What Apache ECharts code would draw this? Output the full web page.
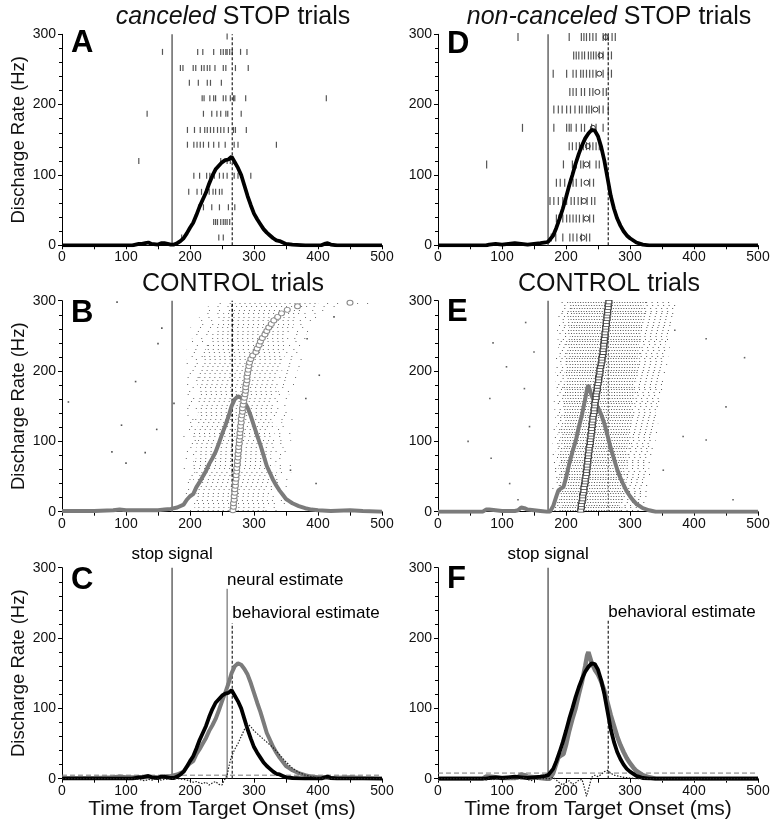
<!DOCTYPE html>
<html><head><meta charset="utf-8">
<script src="https://cdn.jsdelivr.net/npm/echarts@6/dist/echarts.min.js"></script>
<style>html,body{margin:0;padding:0;background:#fff}#c{width:778px;height:827px}</style>
</head><body><div id="c"></div>
<script>
// ---------------- DATA ----------------
const xTicks = [0, 100, 200, 300, 400, 500];
const yTicks = [0, 100, 200, 300];
const stopSignalMs = 172;
const behavioralEstimateMs = 266;
const neuralEstimateMs = 258;
const thresholdC = 5;
const thresholdF = 8;

// Panel A: canceled STOP trials spike density (Hz)
const canceledSDF = [[0,0],[110,0],[120,2],[125,2],[130,3],[135,4],[140,2],[150,1],[155,3],[160,3],[165,2],[170,1],[175,1],[180,3],[185,6],[190,10],[195,17],[200,25],[205,32],[210,43],[215,55],[220,65],[225,75],[230,88],[235,99],[240,108],[245,113],[250,118],[255,121],[260,122],[265,126],[270,118],[275,110],[280,100],[285,85],[290,70],[295,57],[300,45],[305,37],[310,30],[315,23],[320,18],[325,14],[330,10],[335,7],[340,6],[345,4],[350,2],[360,1],[380,0],[405,0],[410,2],[415,3],[420,1],[430,0],[500,0]];
// Panel B: control trials (latency matched to canceled)
const controlSDF1 = [[0,1],[50,1],[80,2],[90,3],[100,2],[150,2],[160,3],[170,4],[180,6],[190,10],[195,17],[200,22],[205,25],[210,35],[215,42],[220,50],[225,58],[230,68],[235,76],[240,85],[245,97],[250,110],[255,122],[260,135],[265,150],[270,160],[275,164],[280,162],[285,156],[290,148],[295,136],[300,122],[305,108],[310,95],[315,80],[320,65],[325,55],[330,45],[335,37],[340,30],[345,24],[350,18],[355,15],[360,12],[370,8],[380,5],[390,3],[400,2],[420,1],[450,2],[470,1],[500,0]];
// Panel C: difference (control - canceled)
const canceledDiff = [[0,0],[110,0],[120,-1],[130,-3],[135,-1],[140,-2],[150,0],[155,-2],[160,-1],[170,0],[180,0],[190,-1],[195,-2],[200,-3],[205,-5],[210,-4],[215,-6],[220,-7],[225,-5],[230,-9],[235,-6],[240,-4],[245,-8],[250,-9],[253,-3],[255,0],[258,5],[260,14],[262,22],[265,32],[268,38],[270,42],[275,50],[280,60],[285,70],[290,78],[295,74],[300,68],[310,60],[320,52],[330,44],[340,34],[350,24],[360,15],[370,9],[380,5],[390,3],[400,1],[420,0],[500,0]];
// Panel D: non-canceled STOP trials
const noncanceledSDF = [[0,0],[75,0],[80,1],[90,2],[100,1],[110,2],[120,3],[130,2],[140,1],[150,2],[160,3],[168,4],[172,5],[175,7],[180,14],[185,25],[190,38],[195,52],[200,68],[205,85],[210,100],[215,116],[220,130],[225,142],[230,152],[235,159],[240,164],[245,163],[250,155],[255,140],[260,120],[265,95],[270,70],[275,52],[280,38],[285,28],[290,20],[295,14],[300,10],[310,4],[320,1],[330,0],[500,0]];
// Panel E: control trials (latency matched to non-canceled)
const controlSDF2 = [[0,0],[70,0],[75,3],[80,3],[90,2],[100,1],[120,1],[125,2],[130,6],[135,5],[140,3],[150,2],[160,1],[170,0],[175,0],[180,8],[185,22],[188,30],[192,33],[196,35],[200,48],[205,68],[210,85],[215,100],[220,120],[225,138],[230,160],[233,175],[235,180],[237,178],[240,165],[245,155],[250,148],[255,138],[260,125],[265,108],[270,90],[275,75],[280,60],[285,48],[290,38],[295,29],[300,22],[305,16],[310,11],[320,5],[330,2],[340,0],[500,0]];
// Panel F: difference (control - non-canceled)
const noncanceledDiff = [[0,0],[70,0],[75,-2],[80,1],[85,-2],[90,0],[130,0],[135,2],[140,-1],[145,-3],[150,-1],[160,0],[175,0],[180,2],[185,-2],[190,-6],[195,-9],[200,-5],[205,-3],[210,-8],[215,-6],[220,-2],[225,-1],[228,-10],[232,-25],[236,-12],[240,2],[245,5],[250,3],[255,6],[260,10],[265,12],[270,8],[275,5],[280,4],[290,2],[300,1],[310,0],[500,0]];

// Raster A: [row, spike times]
const rasterA = [
 [297,[258]],
 [275,[157,212,220,237,248,252,256,258,262,266,279,289]],
 [252,[185,189,205,209,218,222,227,231,239,252,256,271,291]],
 [231,[199,213,227,232,249]],
 [209,[219,222,231,237,240,252,256,263,268,270,287,413]],
 [187,[133,221,234,242,248,256,259,280]],
 [164,[196,207,216,223,227,232,237,243,248,253,260,268,271,288]],
 [143,[196,206,211,216,221,229,237,245,255,269,275,335]],
 [120,[120,248,258,263,268]],
 [99,[206,215,226,231,238,246,252,258,269,275,295]],
 [76,[198,211,218,225,230,236,240,246,250]],
 [54,[214,221,234,246,260,270]],
 [33,[237,240,243,248,252,255,258,262]],
 [11,[187,245,252]]
];
// Raster D: [row, spike times], plus reaction time per row
const rasterD = [
 [296,[125,205,224,228,232,237,242,247,258,262,266,272,277]],
 [270,[212,216,220,225,229,235,239,243,247,252,258,266,271]],
 [244,[180,201,211,216,223,227,232,237,242,247,258,266,271]],
 [218,[206,211,216,224,229,237,242,258,263]],
 [193,[181,188,194,201,207,214,221,225,232,236,240,252,258,266]],
 [167,[132,181,201,205,208,216,224,229,240,247,258]],
 [141,[205,210,216,221,227,232,237,242,247,252]],
 [115,[76,196,210,216,223,227,237,247,252]],
 [89,[185,191,198,206,211,216,224,237,243]],
 [63,[175,181,188,195,201,208,213,219,224,233,240,245]],
 [38,[185,189,195,201,206,211,216,221,227,237,243]],
 [11,[177,184,195,206,211,217,224,232,237]]
];
const rtD = [[296,262],[270,254],[244,252],[218,249],[193,246],[167,242],[141,234],[115,232],[89,232],[63,228],[38,232],[11,226]];

// Raster B (dense): [row, sparseStart, denseStart, denseEnd, sparseEnd]
const rasterB = [
 [2,200,212,318,340],[7,195,208,320,345],[12,198,210,325,350],[17,190,211,330,345],[22,196,207,322,360],
 [27,185,210,328,350],[32,192,206,318,338],[37,200,212,335,355],[42,188,209,326,348],[47,194,205,330,365],
 [52,190,210,322,342],[57,198,208,336,358],[62,185,207,328,352],[67,193,211,333,362],[72,196,206,320,340],
 [77,188,209,331,355],[82,192,212,326,348],[87,186,207,338,360],[92,195,210,324,346],[97,190,206,330,352],
 [102,198,211,335,358],[107,184,208,327,345],[112,193,210,332,366],[117,189,206,324,350],[122,196,212,336,356],
 [127,187,209,328,344],[132,194,207,333,360],[137,190,211,326,352],[142,199,213,338,362],[147,186,208,330,348],
 [152,192,212,335,358],[157,188,210,328,350],[162,195,214,336,364],[167,190,211,330,355],[172,185,213,338,360],
 [177,194,215,334,352],[182,189,212,340,366],[187,196,216,336,358],[192,186,214,342,370],[197,193,217,338,362],
 [202,190,215,344,368],[207,197,219,340,372],[212,188,217,346,366],[217,195,220,342,375],[222,192,222,348,370],
 [227,199,224,345,378],[232,194,225,350,374],[237,200,228,348,380],[242,196,230,352,378],[247,203,232,355,385],
 [252,199,235,352,382],[257,205,238,358,388],[262,201,240,360,390],[267,208,244,362,386],[272,210,246,366,395],
 [277,214,250,368,398],[282,216,252,372,400],[287,222,256,378,410],[292,228,262,385,440],[297,235,270,400,490]
];
const rtB = [[2,267],[7,268],[12,268],[17,269],[22,269],[27,270],[32,270],[37,271],[42,271],[47,272],[52,272],[57,273],[62,273],[67,274],[72,274],[77,275],[82,275],[87,276],[92,276],[97,277],[102,277],[107,278],[112,278],[117,279],[122,279],[127,280],[132,280],[137,281],[142,282],[147,282],[152,283],[157,284],[162,285],[167,286],[172,287],[177,287],[182,288],[187,289],[192,289],[197,290],[202,291],[207,292],[212,293],[217,295],[222,298],[227,303],[232,305],[237,308],[242,310],[247,313],[252,317],[257,320],[262,323],[267,327],[272,331],[277,337],[282,343],[287,352],[292,368],[297,450]];
const sparseB = [[86,298],[156,261],[150,239],[115,185],[10,156],[93,123],[130,84],[78,85],[100,69],[383,246],[402,194],[381,161],[357,59],[397,40],[425,277],[148,117],[175,154]];

// Raster E (dense): [row, sparseStart, denseStart, denseEnd, sparseEnd]
const rasterE = [
 [2,182,190,286,318],[6,178,188,288,322],[10,185,192,284,315],[14,180,189,290,325],[18,176,191,287,320],
 [22,183,190,292,328],[26,179,188,288,318],[30,185,193,291,326],[34,177,189,286,322],[38,182,191,293,330],
 [42,180,190,289,324],[46,186,194,294,320],[50,178,189,290,328],[54,184,192,295,332],[58,181,190,291,325],
 [62,176,188,293,330],[66,183,193,296,326],[70,179,190,292,334],[74,185,194,297,328],[78,180,191,294,332],
 [82,177,189,298,336],[86,184,195,295,330],[90,181,192,299,338],[94,186,196,296,332],[98,179,190,300,335],
 [102,183,194,297,340],[106,180,192,301,334],[110,187,197,298,338],[114,182,193,302,342],[118,178,191,299,336],
 [122,185,196,303,340],[126,181,194,300,344],[130,188,198,304,338],[134,183,195,301,342],[138,180,193,305,346],
 [142,186,197,302,340],[146,182,195,306,344],[150,189,199,303,348],[154,184,196,307,342],[158,181,194,304,346],
 [162,187,199,308,350],[166,183,197,305,344],[170,190,200,309,348],[174,185,198,306,352],[178,182,196,310,346],
 [182,188,200,307,350],[186,184,198,311,354],[190,191,202,308,348],[194,186,199,312,352],[198,183,197,309,356],
 [202,189,201,313,350],[206,185,200,310,354],[210,192,203,314,358],[214,187,201,311,352],[218,184,199,315,356],
 [222,190,203,312,360],[226,186,201,316,354],[230,193,205,313,358],[234,188,202,317,362],[238,185,200,314,356],
 [242,191,204,318,360],[246,187,202,315,364],[250,194,206,319,358],[254,189,203,316,362],[258,186,201,320,366],
 [262,192,205,317,360],[266,188,203,321,364],[270,195,207,318,368],[274,190,204,322,362],[278,187,202,319,366],
 [282,193,206,323,370],[286,189,204,320,364],[290,196,208,324,368],[294,191,205,321,372],[298,188,203,325,366]
];
const rtE = [[2,223],[6,224],[10,224],[14,225],[18,226],[22,226],[26,227],[30,228],[34,228],[38,229],[42,230],[46,230],[50,231],[54,232],[58,232],[62,233],[66,233],[70,234],[74,234],[78,235],[82,235],[86,236],[90,236],[94,237],[98,238],[102,238],[106,239],[110,239],[114,240],[118,240],[122,241],[126,241],[130,242],[134,242],[138,243],[142,244],[146,244],[150,245],[154,245],[158,246],[162,247],[166,247],[170,248],[174,249],[178,249],[182,250],[186,251],[190,251],[194,252],[198,253],[202,253],[206,254],[210,255],[214,256],[218,256],[222,257],[226,258],[230,258],[234,259],[238,259],[242,260],[246,260],[250,261],[254,261],[258,262],[262,262],[266,263],[270,263],[274,264],[278,264],[282,265],[286,265],[290,266],[294,266],[298,267]];
const sparseE = [[137,269],[86,240],[150,227],[81,161],[47,100],[83,76],[112,40],[125,17],[370,258],[419,246],[479,219],[450,149],[419,102],[383,107],[461,17],[352,59],[107,206],[135,175],[143,121]];

// ---------------- CHART ----------------
const FONT = "'Liberation Sans', Arial, Helvetica, sans-serif";
const INK = '#111';
const GRAY = '#7b7b7b';
const lefts = [62, 438];
const tops = [34.3, 300.7, 567.7];
const W = 320, H = 211;

const grids = [], xAxes = [], yAxes = [], series = [];
// panel order: A(0,0) B(0,1) C(0,2) D(1,0) E(1,1) F(1,2)
for (let col = 0; col < 2; col++) {
  for (let row = 0; row < 3; row++) {
    grids.push({left: lefts[col], top: tops[row], width: W, height: H});
    const gi = grids.length - 1;
    xAxes.push({
      gridIndex: gi, type: 'value', min: xTicks[0], max: xTicks[xTicks.length - 1], interval: 100,
      axisLine: {lineStyle: {color: '#000', width: 1}},
      axisTick: {length: 4, lineStyle: {color: '#000'}},
      minorTick: {show: true, splitNumber: 2, length: 4, lineStyle: {color: '#000'}},
      splitLine: {show: false}, minorSplitLine: {show: false},
      axisLabel: {fontSize: 14, color: INK, fontFamily: FONT, margin: 5},
      name: row === 2 ? 'Time from Target Onset (ms)' : '',
      nameLocation: 'middle', nameGap: 18,
      nameTextStyle: {fontSize: 21, color: INK, fontFamily: FONT}
    });
    yAxes.push({
      gridIndex: gi, type: 'value', min: yTicks[0], max: yTicks[yTicks.length - 1], interval: 100,
      axisLine: {show: true, lineStyle: {color: '#000', width: 1}},
      axisTick: {show: true, length: 4, lineStyle: {color: '#000'}},
      minorTick: {show: true, splitNumber: 5, length: 3, lineStyle: {color: '#000'}},
      splitLine: {show: false}, minorSplitLine: {show: false},
      axisLabel: {fontSize: 14, color: INK, fontFamily: FONT, margin: 6},
      name: col === 0 ? 'Discharge Rate (Hz)' : '',
      nameLocation: 'middle', nameGap: 26,
      nameTextStyle: {fontSize: 18.5, color: INK, fontFamily: FONT}
    });
  }
}
const G = {A: 0, B: 1, C: 2, D: 3, E: 4, F: 5};

function curve(gi, data, color, width, z, extra) {
  return Object.assign({
    type: 'line', xAxisIndex: gi, yAxisIndex: gi, data: data, showSymbol: false, symbol: 'none',
    lineStyle: {color: color, width: width}, z: z, silent: true, animation: false
  }, extra || {});
}
function vline(gi, x, top, style, z) {
  return {
    type: 'line', xAxisIndex: gi, yAxisIndex: gi, data: [[x, 0], [x, top]], symbol: 'none',
    lineStyle: style, z: z || 2, silent: true, animation: false
  };
}
function hline(gi, y, style) {
  return {
    type: 'line', xAxisIndex: gi, yAxisIndex: gi, data: [[0, y], [500, y]], symbol: 'none',
    lineStyle: style, z: 2, silent: true, animation: false
  };
}
function ticks(gi, raster, h, color) {
  const d = [];
  raster.forEach(([y, ts]) => ts.forEach(t => d.push([t, y])));
  return {type: 'scatter', xAxisIndex: gi, yAxisIndex: gi, data: d, symbol: 'rect',
    symbolSize: [1.2, h], itemStyle: {color: color, opacity: 1}, z: 1, silent: true, animation: false};
}
function denseRaster(gi, rows, color, denseDash, sparseDash, alpha) {
  return {
    type: 'custom', xAxisIndex: gi, yAxisIndex: gi, data: rows, silent: true, animation: false, z: 1,
    encode: {x: [1, 2, 3, 4], y: 0},
    renderItem: function (params, api) {
      const y = api.value(0);
      const p = t => api.coord([t, y]);
      const a = p(api.value(1)), b = p(api.value(2)), c = p(api.value(3)), d = p(api.value(4));
      const yy = Math.round(a[1]) + 0.5;
      const k = params.dataIndex;
      const seg = (u, v, dash, off) => ({type: 'line', shape: {x1: u[0], y1: yy, x2: v[0], y2: yy},
        style: {stroke: color, lineWidth: 1, lineDash: dash, lineDashOffset: off, opacity: alpha}});
      return {type: 'group', children: [
        seg(a, b, sparseDash, (k * 2.3) % 7), seg(b, c, denseDash, (k * 1.7) % 5), seg(c, d, sparseDash, (k * 3.1) % 7)
      ]};
    }
  };
}
function dots(gi, data, color) {
  return {type: 'scatter', xAxisIndex: gi, yAxisIndex: gi, data: data, symbol: 'rect',
    symbolSize: 1.6, itemStyle: {color: color, opacity: 1}, z: 1, silent: true, animation: false};
}
function rtMarks(gi, pairs, symbol, size, stroke, fill, z) {
  return {type: 'scatter', xAxisIndex: gi, yAxisIndex: gi, data: pairs.map(([y, t]) => [t, y]),
    symbol: symbol, symbolSize: size, itemStyle: {color: fill, borderColor: stroke, borderWidth: 1, opacity: 1},
    z: z || 6, silent: true, animation: false};
}
function note(gi, x, y, text, label) {
  return {type: 'scatter', xAxisIndex: gi, yAxisIndex: gi, data: [[x, y]], symbolSize: 0,
    itemStyle: {opacity: 1}, silent: true, animation: false, z: 10,
    label: Object.assign({show: true, formatter: text, fontSize: 17, color: '#000', opacity: 1, fontFamily: FONT}, label)};
}

const stopStyle = {color: '#666', width: 1.5};
const behavStyle = {color: '#222', width: 1.2, type: [3, 2]};

// A
series.push(ticks(G.A, rasterA, 6, '#555'));
series.push(vline(G.A, stopSignalMs, 300, stopStyle));
series.push(vline(G.A, behavioralEstimateMs, 300, behavStyle));
series.push(curve(G.A, canceledSDF, '#000', 3.8, 5));
// B
series.push(denseRaster(G.B, rasterB, '#444', [1, 4], [1, 9], 0.8));
series.push(dots(G.B, sparseB, '#555'));
series.push(vline(G.B, stopSignalMs, 300, stopStyle));
series.push(vline(G.B, behavioralEstimateMs, 300, {color: '#111', width: 1.5, type: [3, 2]}));
series.push(curve(G.B, controlSDF1, GRAY, 4, 5));
series.push(rtMarks(G.B, rtB, 'circle', [6, 5], '#8a8a8a', '#fff', 6));
// C
series.push(hline(G.C, thresholdC, {color: '#777', width: 1, type: [5, 3]}));
series.push(vline(G.C, stopSignalMs, 300, stopStyle));
series.push(vline(G.C, neuralEstimateMs, 270, {color: '#555', width: 1}));
series.push(vline(G.C, behavioralEstimateMs, 221, behavStyle));
series.push(curve(G.C, controlSDF1, GRAY, 4, 4));
series.push(curve(G.C, canceledSDF, '#000', 3.8, 5));
series.push(curve(G.C, canceledDiff, '#222', 1.2, 6, {lineStyle: {color: '#222', width: 1.2, type: [1.5, 1.5]}, clip: false}));
series.push(note(G.C, stopSignalMs, 300, 'stop signal', {position: 'top', distance: 5}));
series.push(note(G.C, neuralEstimateMs, 270, 'neural estimate', {position: [0, -8], align: 'left', verticalAlign: 'middle'}));
series.push(note(G.C, behavioralEstimateMs, 221, 'behavioral estimate', {position: [0, -10], align: 'left', verticalAlign: 'middle'}));
// D
series.push(ticks(G.D, rasterD, 8, '#555'));
series.push(rtMarks(G.D, rtD, 'circle', 5, '#333', 'rgba(255,255,255,0)', 3));
series.push(vline(G.D, stopSignalMs, 300, stopStyle));
series.push(vline(G.D, behavioralEstimateMs, 300, behavStyle));
series.push(curve(G.D, noncanceledSDF, '#000', 3.8, 5));
// E
series.push(denseRaster(G.E, rasterE, '#444', [1, 1.6], [1, 4.5], 0.9));
series.push(dots(G.E, sparseE, '#666'));
series.push(vline(G.E, stopSignalMs, 300, stopStyle));
series.push(vline(G.E, behavioralEstimateMs, 300, {color: '#444', width: 1, type: [2, 2]}));
series.push(curve(G.E, controlSDF2, GRAY, 4, 5));
series.push(rtMarks(G.E, rtE, 'rect', [6, 3.5], '#444', '#fff', 6));
// F
series.push(hline(G.F, thresholdF, {color: '#777', width: 1, type: [5, 3]}));
series.push(vline(G.F, stopSignalMs, 300, stopStyle));
series.push(vline(G.F, behavioralEstimateMs, 226, behavStyle));
series.push(curve(G.F, controlSDF2, GRAY, 4.5, 4));
series.push(curve(G.F, noncanceledSDF, '#000', 3.8, 5));
series.push(curve(G.F, noncanceledDiff, '#222', 1.2, 6, {lineStyle: {color: '#222', width: 1.2, type: [1.5, 1.5]}, clip: false}));
series.push(note(G.F, stopSignalMs, 300, 'stop signal', {position: 'top', distance: 5}));
series.push(note(G.F, behavioralEstimateMs, 226, 'behavioral estimate', {position: [0, -7], align: 'left', verticalAlign: 'middle'}));

const titleStyle = {fontSize: 25, fontFamily: FONT, fill: '#111', textAlign: 'center', textVerticalAlign: 'middle'};
const letterStyle = {fontSize: 31, fontWeight: 'bold', fontFamily: FONT, fill: '#000', textAlign: 'left', textVerticalAlign: 'middle'};
const graphic = [
  {type: 'text', x: 233, y: 17, style: Object.assign({text: '{i|canceled} STOP trials', rich: {i: {fontStyle: 'italic', fontSize: 25, fontFamily: FONT}}}, titleStyle)},
  {type: 'text', x: 609, y: 17, style: Object.assign({text: '{i|non-canceled} STOP trials', rich: {i: {fontStyle: 'italic', fontSize: 25, fontFamily: FONT}}}, titleStyle)},
  {type: 'text', x: 233, y: 284, style: Object.assign({text: 'CONTROL trials'}, titleStyle)},
  {type: 'text', x: 609, y: 284, style: Object.assign({text: 'CONTROL trials'}, titleStyle)},
  {type: 'text', x: 71, y: 43, style: Object.assign({text: 'A'}, letterStyle)},
  {type: 'text', x: 71, y: 313, style: Object.assign({text: 'B'}, letterStyle)},
  {type: 'text', x: 71, y: 580, style: Object.assign({text: 'C'}, letterStyle)},
  {type: 'text', x: 447, y: 44, style: Object.assign({text: 'D'}, letterStyle)},
  {type: 'text', x: 447, y: 312, style: Object.assign({text: 'E'}, letterStyle)},
  {type: 'text', x: 447, y: 579, style: Object.assign({text: 'F'}, letterStyle)}
];

const chart = echarts.init(document.getElementById('c'), null, {renderer: 'canvas'});
chart.setOption({
  animation: false,
  backgroundColor: '#fff',
  textStyle: {fontFamily: FONT},
  grid: grids, xAxis: xAxes, yAxis: yAxes, series: series, graphic: graphic
});
</script></body></html>
